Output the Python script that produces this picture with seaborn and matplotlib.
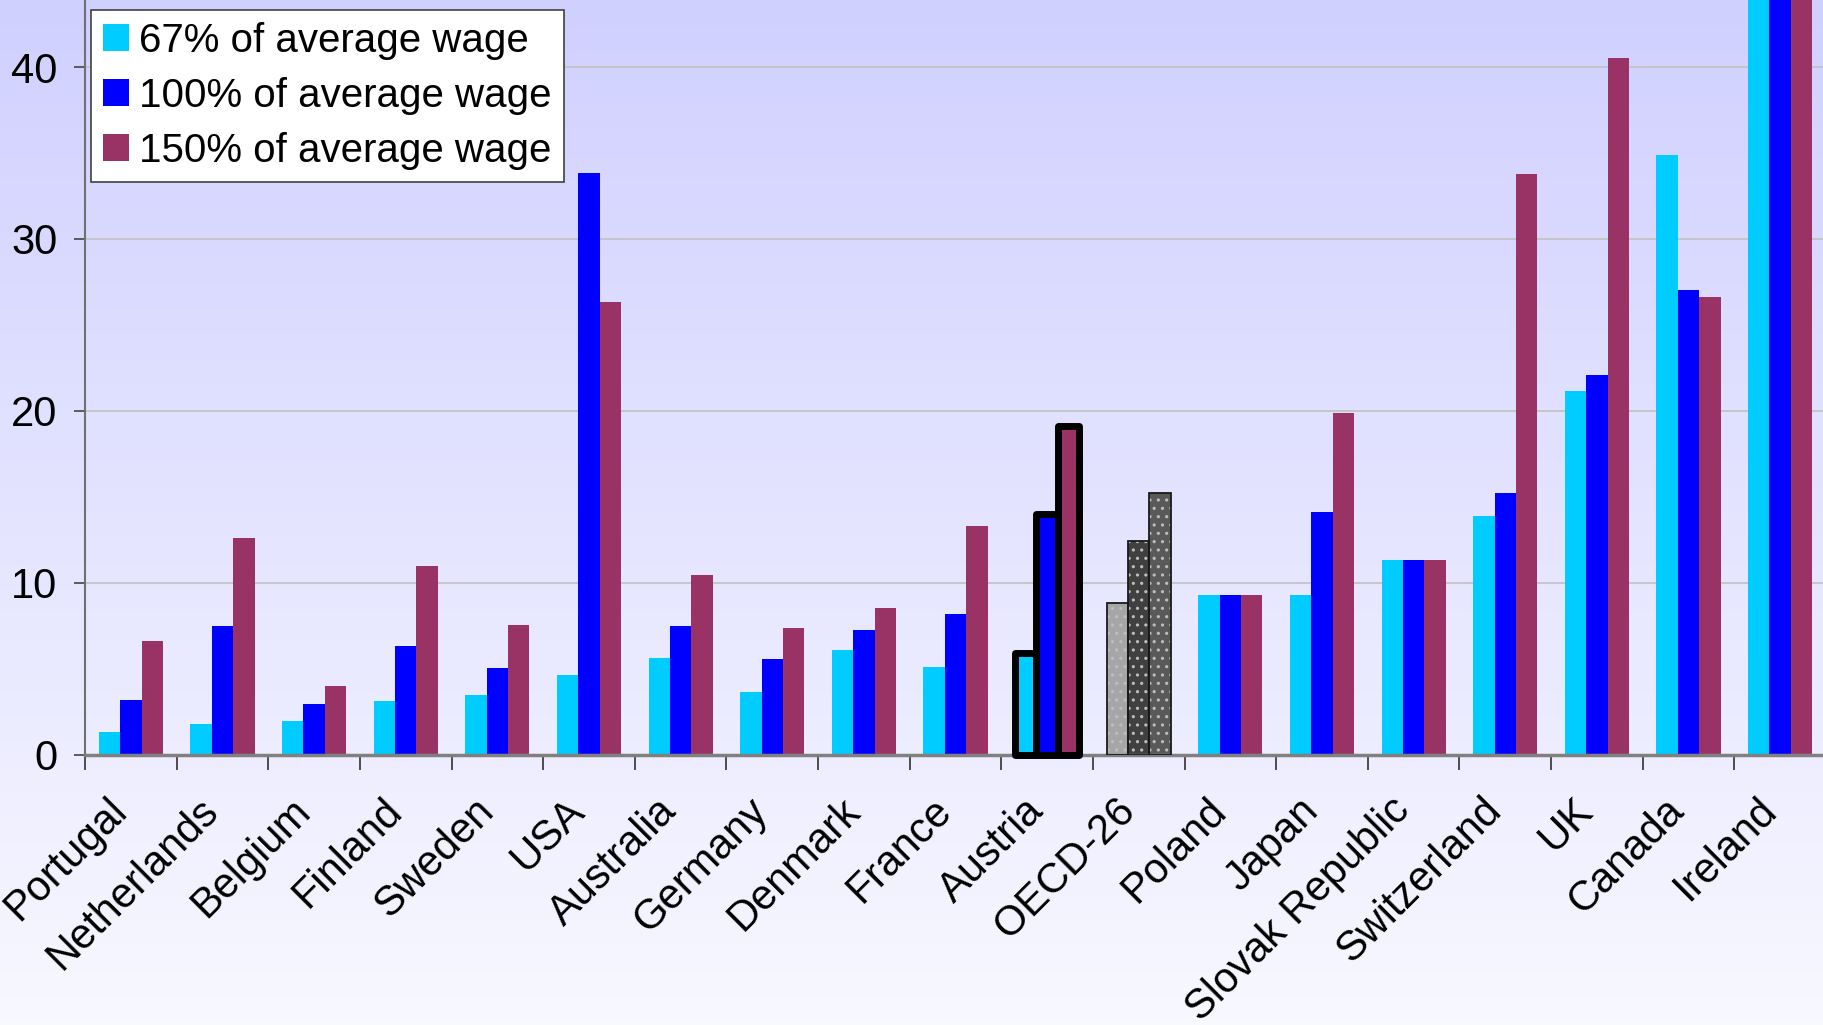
import numpy as np
import pandas as pd
import seaborn as sns
import matplotlib.pyplot as plt
from matplotlib.patches import Rectangle
from matplotlib.ticker import FixedLocator
from matplotlib.transforms import ScaledTranslation

# data
countries = ['Portugal', 'Netherlands', 'Belgium', 'Finland', 'Sweden', 'USA',
             'Australia', 'Germany', 'Denmark', 'France', 'Austria', 'OECD-26',
             'Poland', 'Japan', 'Slovak Republic', 'Switzerland', 'UK', 'Canada',
             'Ireland']
wage_67 = [1.3, 1.8, 1.95, 3.1, 3.45, 4.65, 5.6, 3.65, 6.1, 5.1, 5.9, 8.8,
           9.3, 9.3, 11.3, 13.9, 21.15, 34.9, 50.0]
wage_100 = [3.2, 7.5, 2.95, 6.3, 5.05, 33.85, 7.45, 5.55, 7.25, 8.2, 14.0, 12.4,
            9.3, 14.1, 11.3, 15.2, 22.1, 27.0, 47.0]
wage_150 = [6.6, 12.6, 4.0, 10.95, 7.55, 26.35, 10.45, 7.35, 8.5, 13.3, 19.1, 15.2,
            9.3, 19.85, 11.3, 33.8, 40.5, 26.6, 45.5]
series = ['67% of average wage', '100% of average wage', '150% of average wage']
colors = ['#00ccff', '#0000ff', '#993366']
oecd_colors = ['#a6a6a6', '#404040', '#595959']

df = pd.DataFrame({
    'country': countries * 3,
    'series': np.repeat(series, len(countries)),
    'value': wage_67 + wage_100 + wage_150,
})

sns.set_theme(style='white')
plt.rcParams['font.family'] = ['Liberation Sans', 'DejaVu Sans']
plt.rcParams['hatch.linewidth'] = 1.1

fig = plt.figure(figsize=(18.23, 10.25), dpi=100)

# lavender-to-white gradient behind everything
bg = fig.add_axes([0, 0, 1, 1], zorder=-1)
top = np.array([208, 208, 255]) / 255
bottom = np.array([248, 248, 255]) / 255
t = np.linspace(0, 1, 256)[:, None, None]
bg.imshow(top + (bottom - top) * t, aspect='auto', extent=[0, 1, 0, 1])
bg.axis('off')

ax = fig.add_axes([85 / 1823, 1 - 754.5 / 1025, 1741 / 1823, 754.5 / 1025])
ax.patch.set_alpha(0)
sns.barplot(data=df, x='country', y='value', hue='series', palette=colors,
            width=0.7, saturation=1, linewidth=0, errorbar=None, ax=ax)

austria = countries.index('Austria')
oecd = countries.index('OECD-26')
for j, cont in enumerate(ax.containers):
    p = cont.patches[austria]
    p.set_edgecolor('black')
    p.set_linewidth(5)
    p.set_joinstyle('round')
    p.set_clip_on(False)
    p.set_zorder(3)
    q = cont.patches[oecd]
    q.set_facecolor(oecd_colors[j])
    q.set_hatch('..')
    q.set_edgecolor('#bdbdbd')
    ax.add_patch(Rectangle((q.get_x(), q.get_y()), q.get_width(), q.get_height(),
                           fill=False, ec='#1a1a1a', lw=1.3, zorder=3))

ax.set_xlim(-0.5, len(countries) - 0.5)
ax.set_ylim(0, 43.9)
ax.set_yticks([0, 10, 20, 30, 40])
ax.set_xlabel('')
ax.set_ylabel('')
ax.set_axisbelow(True)
ax.yaxis.grid(True, color='#c4c4c4', lw=1.3)

for s in ['top', 'right']:
    ax.spines[s].set_visible(False)
ax.spines['left'].set_color('#707070')
ax.spines['left'].set_linewidth(1.5)
ax.spines['bottom'].set_color('#808080')
ax.spines['bottom'].set_linewidth(2.5)

ax.tick_params(axis='y', left=True, length=8, width=1.3, color='#505050',
               pad=12, labelsize=30, labelcolor='black')
ax.xaxis.set_minor_locator(FixedLocator(np.arange(-0.5, len(countries), 1)))
ax.tick_params(axis='x', which='major', length=0, pad=36, labelsize=30,
               labelcolor='black')
ax.tick_params(axis='x', which='minor', bottom=True, length=11, width=1.3,
               color='#404040')
shift = ScaledTranslation(-10 / 100, 0, fig.dpi_scale_trans)
for lbl in ax.get_xticklabels():
    lbl.set_rotation(45)
    lbl.set_ha('right')
    lbl.set_va('center')
    lbl.set_rotation_mode('anchor')
    lbl.set_transform(lbl.get_transform() + shift)

handles = [Rectangle((0, 0), 1, 1, fc=c, ec='none') for c in colors]
leg = ax.legend(handles, series, loc='upper left',
                bbox_to_anchor=(91 / 1823, 1 - 10 / 1025),
                bbox_transform=fig.transFigure, borderaxespad=0,
                fontsize=29, frameon=True, fancybox=False,
                handlelength=0.65, handleheight=0.65, handletextpad=0.25,
                labelspacing=0.42, borderpad=0.3, labelcolor='black')
leg.get_frame().set_edgecolor('#404040')
leg.get_frame().set_linewidth(1.2)
leg.get_frame().set_facecolor('white')
leg.get_frame().set_alpha(1)

fig.savefig('out.png', dpi=100)
